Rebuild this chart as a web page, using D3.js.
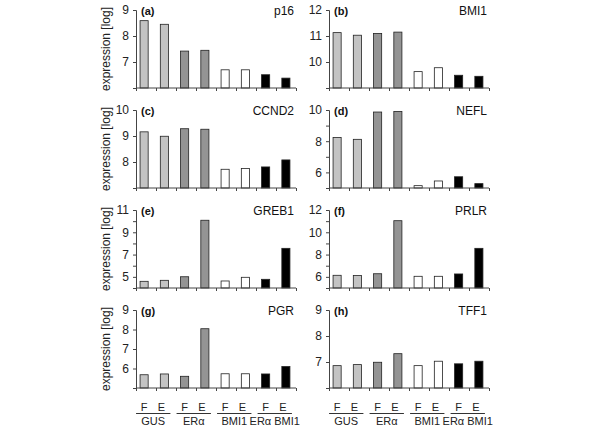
<!DOCTYPE html>
<html><head><meta charset="utf-8">
<script src="https://cdn.jsdelivr.net/npm/d3@7"></script>
<style>body{margin:0;background:#fff}svg{font-family:"Liberation Sans",Arial,sans-serif}</style>
</head><body>
<svg id="c" width="600" height="432"></svg>
<script>
const conditions = ["GUS F","GUS E","ERa F","ERa E","BMI1 F","BMI1 E","ERa BMI1 F","ERa BMI1 E"];
const groupOf = [0,0,1,1,2,2,3,3];
const groupNames = ["GUS","ERα","BMI1","ERα BMI1"];
const treatLabels = ["F","E","F","E","F","E","F","E"];
const genes = ["p16","BMI1","CCND2","NEFL","GREB1","PRLR","PGR","TFF1"];
const panelTags = ["(a)","(b)","(c)","(d)","(e)","(f)","(g)","(h)"];
const p16   = [8.59, 8.45, 7.42, 7.45, 6.70, 6.70, 6.51, 6.38];
const bmi1  = [11.13, 11.03, 11.10, 11.15, 9.63, 9.78, 9.49, 9.45];
const ccnd2 = [9.16, 8.99, 9.28, 9.26, 7.72, 7.75, 7.81, 8.08];
const nefl  = [8.24, 8.12, 9.87, 9.91, 5.15, 5.45, 5.72, 5.28];
const greb1 = [4.60, 4.69, 5.01, 10.08, 4.63, 4.96, 4.78, 7.56];
const prlr  = [6.14, 6.12, 6.28, 11.04, 6.05, 6.05, 6.26, 8.56];
const pgr   = [5.68, 5.72, 5.60, 8.04, 5.73, 5.73, 5.72, 6.10];
const tff1  = [6.86, 6.90, 6.99, 7.32, 6.86, 7.03, 6.93, 7.03];
const values = [p16, bmi1, ccnd2, nefl, greb1, prlr, pgr, tff1];
const yDomains = [[6,9],[9,12],[7,10],[5,10],[4,11],[5,12],[5,9],[6,9]];
const yTickLabels = [[7,8,9],[10,11,12],[8,9,10],[6,8,10],[5,7,9,11],[6,8,10,12],[6,7,8,9],[7,8,9]];
const colors = ["#c3c3c3","#c3c3c3","#949494","#949494","#ffffff","#ffffff","#000000","#000000"];

const svg = d3.select("#c");
const W = 160, H = 78;
const colX = [136, 329];
const rowTop = [10, 110, 210, 310];
const axisColor = "#444";

const x = d3.scaleBand().domain(d3.range(8)).range([0, W]).paddingInner(0.6).paddingOuter(0.25);

values.forEach((vals, i) => {
  const col = i % 2, row = Math.floor(i / 2);
  const g = svg.append("g").attr("transform", `translate(${colX[col]},${rowTop[row]})`);
  const dom = yDomains[i];
  const y = d3.scaleLinear().domain(dom).range([H, 0]);

  g.selectAll("rect.bar").data(vals).enter().append("rect")
    .attr("class","bar")
    .attr("x", (d, j) => x(j) - 1)
    .attr("width", x.bandwidth())
    .attr("y", d => y(d))
    .attr("height", d => y(dom[0]) - y(d))
    .attr("fill", (d, j) => colors[j])
    .attr("stroke", "#222").attr("stroke-width", 0.8);

  const allTicks = d3.range(dom[0], dom[1] + 1);
  const yAxis = d3.axisLeft(y).tickValues(allTicks).tickSize(3)
    .tickFormat(v => yTickLabels[i].includes(v) ? v : "");
  const ya = g.append("g").call(yAxis);
  ya.select(".domain").attr("stroke", axisColor);
  ya.selectAll(".tick line").attr("stroke", axisColor);
  ya.selectAll(".tick text").attr("font-size", 12).attr("fill", "#222").attr("x", -7);

  const xb = d3.scaleLinear().domain([0, 8]).range([0, W]);
  const xAxis = d3.axisBottom(xb).tickValues(d3.range(0, 9)).tickSize(3).tickFormat("");
  const xa = g.append("g").attr("transform", `translate(0,${H})`).call(xAxis);
  xa.select(".domain").attr("stroke", axisColor).attr("d", `M0,0H${W}`);
  xa.selectAll(".tick line").attr("stroke", axisColor);

  g.append("text").attr("x", 5).attr("y", 5).attr("font-size", 11).attr("font-weight", "bold")
    .attr("fill", "#111").text(panelTags[i]);
  g.append("text").attr("x", W - 2).attr("y", 5).attr("text-anchor", "end").attr("font-size", 12)
    .attr("fill", "#111").text(genes[i]);

  if (col === 0) {
    g.append("text").attr("transform", `translate(-26,${H/2}) rotate(-90)`)
      .attr("text-anchor", "middle").attr("font-size", 12).attr("fill", "#222")
      .text("expression [log]");
  }
});

colX.forEach(cx => {
  const g = svg.append("g").attr("transform", `translate(${cx},0)`);
  g.selectAll("text.tr").data(treatLabels).enter().append("text")
    .attr("class", "tr")
    .attr("x", (d, j) => x(j) - 1 + x.bandwidth() / 2 + (j % 2 === 0 ? 0 : -3))
    .attr("y", 411).attr("text-anchor", "middle").attr("font-size", 11).attr("fill", "#222")
    .text(d => d);
  groupNames.forEach((name, k) => {
    const j0 = groupOf.indexOf(k);
    const x0 = x(j0) - 5, x1 = x(j0 + 1) + x.bandwidth() + 1;
    g.append("line").attr("x1", x0).attr("x2", x1).attr("y1", 413.5).attr("y2", 413.5)
      .attr("stroke", "#333").attr("stroke-width", 1);
    g.append("text").attr("x", (x0 + x1) / 2).attr("y", 425).attr("text-anchor", "middle")
      .attr("font-size", 11).attr("fill", "#222").text(name);
  });
});
</script>
</body></html>
